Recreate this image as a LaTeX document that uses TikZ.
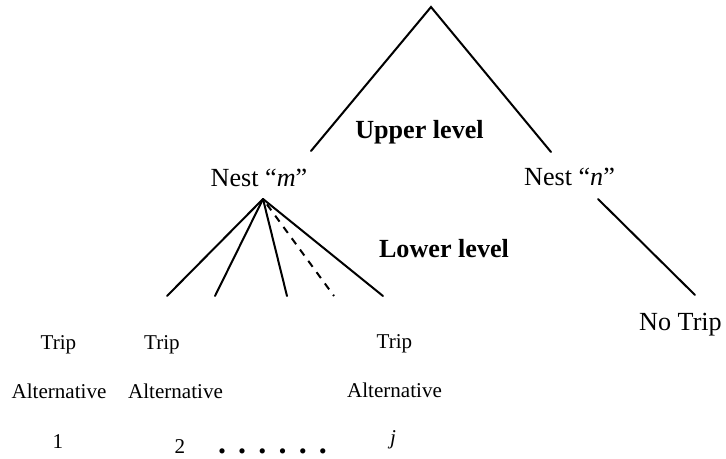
\documentclass[tikz,border=0pt]{standalone}
\usepackage{fontspec}
\setmainfont{Liberation Serif}
\begin{document}
\begin{tikzpicture}[x=0.75pt,y=-0.75pt,
 big/.style={font=\fontsize{19.6}{23}\selectfont, inner sep=0pt, anchor=base},
 boldlab/.style={font=\fontsize{19.6}{23}\selectfont\bfseries, inner sep=0pt, anchor=base},
 small/.style={font=\fontsize{15.8}{19}\selectfont, inner sep=0pt, anchor=base},
 conn/.style={line width=1.5pt, line cap=round},
 dashconn/.style={line width=1.5pt, line cap=butt, dash pattern=on 5.5pt off 5pt, dash phase=5.5pt}]
\useasboundingbox (0,0) rectangle (726,458);

% coordinates for connector ends
\coordinate (apex) at (431,7);
\coordinate (ul) at (311,151);
\coordinate (ur) at (551,152);
\coordinate (fan) at (263,199);
\coordinate (f1) at (167,296);
\coordinate (f2) at (215,296);
\coordinate (f3) at (287,296);
\coordinate (f4) at (334,296);
\coordinate (f5) at (383,296);
\coordinate (ns) at (598,199);
\coordinate (ne) at (695,295);

% labels
\node[big] (nestm) at (259,186) {Nest “\textit{m}”};
\node[big] (nestn) at (569.5,185) {Nest “\textit{n}”};
\node[boldlab] (upper) at (419.5,138) {Upper level};
\node[boldlab] (lower) at (444,257) {Lower level};
\node[big] (notrip) at (680.5,330) {No Trip};

\node[small] (t1) at (58.5,349) {Trip};
\node[small] (t2) at (162,349) {Trip};
\node[small] (t3) at (394.5,348) {Trip};
\node[small] (a1) at (59,398) {Alternative};
\node[small] (a2) at (175.5,398) {Alternative};
\node[small] (a3) at (394.5,397) {Alternative};
\node[small] (n1) at (58,448) {1};
\node[small] (n2) at (180,453) {2};
\node[small] (nj) at (393,444) {\textit{j}};
\node[inner sep=0pt, anchor=base, font=\fontsize{24}{28}\selectfont\bfseries] (dots) at (272.5,453)
  {.\hspace{9.15pt}.\hspace{9.15pt}.\hspace{9.15pt}.\hspace{9.15pt}.\hspace{9.15pt}.};

% connectors
\draw[conn] (ul) -- (apex) -- (ur);
\draw[conn] (fan) -- (f1);
\draw[conn] (fan) -- (f2);
\draw[conn] (fan) -- (f3);
\draw[dashconn] (fan) -- (f4);
\draw[conn] (fan) -- (f5);
\draw[conn] (ns) -- (ne);
\end{tikzpicture}
\end{document}
